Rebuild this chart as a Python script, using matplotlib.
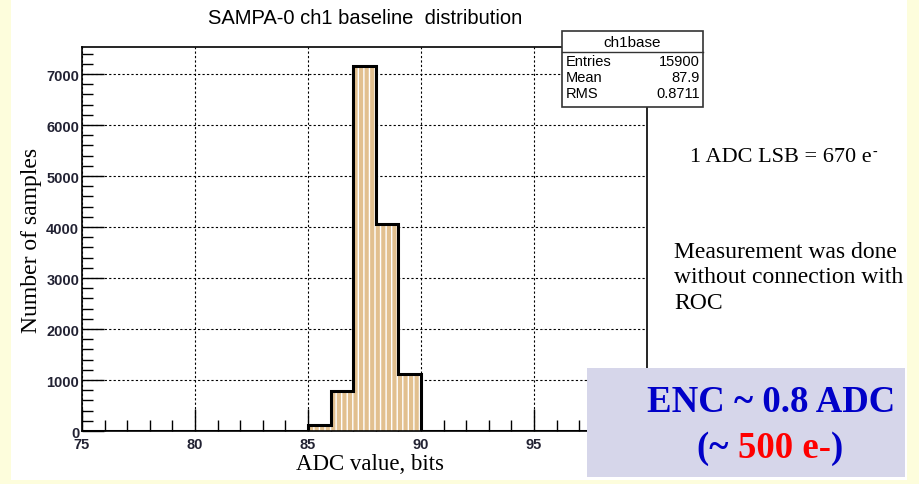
import numpy as np
import matplotlib
matplotlib.use("Agg")
import matplotlib.pyplot as plt
from matplotlib.patches import Rectangle
from matplotlib.ticker import MultipleLocator

# --- data ---
bin_edges = np.arange(75, 101, 1)
counts = [0, 0, 0, 0, 0, 0, 0, 0, 0, 0,
          110, 790, 7150, 4060, 1120,
          0, 0, 0, 0, 0, 0, 0, 0, 0, 0]
x_ticks = [75, 80, 85, 90, 95]
y_ticks = [0, 1000, 2000, 3000, 4000, 5000, 6000, 7000]
stats_labels = ["Entries", "Mean", "RMS"]
stats_values = ["15900", "87.9", "0.8711"]

# --- colours ---
PAGE_BG = "#fdfddc"
BAR_FILL = "#e2c08f"
BOX_BG = "#d6d6ea"
BLUE = "#0000c8"
RED = "#ff0000"

SANS = "Liberation Sans"
SERIF = ["Liberation Serif", "DejaVu Serif"]

W, H = 920, 485
fig = plt.figure(figsize=(W / 100, H / 100), dpi=100)
fig.patch.set_facecolor(PAGE_BG)
renderer = fig.canvas.get_renderer()


def fx(px):
    return px / W


def fy(py):
    return 1 - py / H


# white slide panel
fig.patches.append(Rectangle((fx(11), fy(481)), fx(907) - fx(11), fy(0) - fy(481),
                             transform=fig.transFigure, facecolor="white",
                             edgecolor="none", zorder=-5))

ax = fig.add_axes([fx(82), fy(432), fx(647) - fx(82), fy(48) - fy(432)], zorder=1)
ax.set_facecolor("white")
ax.set_xlim(75, 100)
ax.set_ylim(0, 7530)

centers = bin_edges[:-1]
plt.rcParams["hatch.linewidth"] = 1.0
ax.bar(centers, counts, width=1.0, align="edge", color=BAR_FILL,
       edgecolor="white", linewidth=0, hatch="|||", zorder=2)
ax.stairs(counts, bin_edges, color="black", linewidth=2.2, zorder=3)

ax.set_xticks(x_ticks)
ax.set_yticks(y_ticks)
ax.xaxis.set_minor_locator(MultipleLocator(1))
ax.yaxis.set_minor_locator(MultipleLocator(200))
ax.tick_params(which="major", direction="in", length=16, width=1.0,
               top=False, right=False, labelsize=10.5)
ax.tick_params(which="minor", direction="in", length=8, width=1.0,
               top=False, right=False)
ax.tick_params(axis="x", pad=4)
ax.tick_params(axis="y", pad=2)
for lab in ax.get_xticklabels() + ax.get_yticklabels():
    lab.set_family(SANS)
    lab.set_fontweight("bold")
    lab.set_color("#222233")

ax.grid(True, which="major", linestyle=(0, (2, 2)), color="black",
        linewidth=0.8, zorder=1)
ax.set_axisbelow(True)
for sp in ax.spines.values():
    sp.set_linewidth(1.2)

ax.set_xlabel("ADC value, bits", family=SERIF, fontsize=16.5)
ax.xaxis.set_label_coords(0.51, -0.058)
ax.set_ylabel("Number of samples", family=SERIF, fontsize=17, labelpad=3)

fig.text(fx(365), fy(18), "SAMPA-0 ch1 baseline  distribution", family=SANS,
         fontsize=14.5, ha="center", va="center")

# stats box
bx0, bx1, by0, by1, bym = 562, 703, 32, 108, 53
fig.patches.append(Rectangle((fx(bx0), fy(by1)), fx(bx1) - fx(bx0), fy(by0) - fy(by1),
                             transform=fig.transFigure, facecolor="white",
                             edgecolor="#333333", linewidth=1.2, zorder=5))
fig.lines.append(plt.Line2D([fx(bx0), fx(bx1)], [fy(bym), fy(bym)],
                            transform=fig.transFigure, color="#333333",
                            linewidth=1.0, zorder=6))
fig.text(fx((bx0 + bx1) / 2), fy(43), "ch1base", family=SANS, fontsize=11,
         ha="center", va="center", zorder=7)
for i, (lab, val) in enumerate(zip(stats_labels, stats_values)):
    yy = fy(62 + i * 16)
    fig.text(fx(bx0 + 4), yy, lab, family=SANS, fontsize=10.5, ha="left",
             va="center", zorder=7)
    fig.text(fx(bx1 - 3), yy, val, family=SANS, fontsize=10.5, ha="right",
             va="center", zorder=7)

# right-hand notes
lsb = fig.text(fx(690), fy(158), "1 ADC LSB = 670 e", family=SERIF,
               fontsize=16, ha="left", va="center")
lsb_end = lsb.get_window_extent(renderer).x1 / W
fig.text(lsb_end + fx(1), fy(152), "-", family=SERIF, fontsize=10,
         ha="left", va="center")
fig.text(fx(674), fy(278), "Measurement was done\nwithout connection with\nROC",
         family=SERIF, fontsize=17, ha="left", va="center", linespacing=1.27)

# ENC box
fig.patches.append(Rectangle((fx(587), fy(478)), fx(905) - fx(587), fy(369) - fy(478),
                             transform=fig.transFigure, facecolor=BOX_BG,
                             edgecolor="none", zorder=8))
fig.text(fx(771), fy(402), "ENC ~ 0.8 ADC", family=SERIF, fontsize=26.5,
         fontweight="bold", color=BLUE, ha="center", va="center", zorder=9)

parts = [("(~ ", BLUE), ("500 e-", RED), (")", BLUE)]
texts = []
for s, c in parts:
    t = fig.text(0, fy(448), s, family=SERIF, fontsize=26.5, fontweight="bold",
                 color=c, ha="left", va="center", zorder=9)
    texts.append(t)
widths = [t.get_window_extent(renderer).width / W for t in texts]
x = fx(770) - sum(widths) / 2
for t, w in zip(texts, widths):
    t.set_x(x)
    x += w

fig.savefig("out.png", dpi=100, facecolor=PAGE_BG)
